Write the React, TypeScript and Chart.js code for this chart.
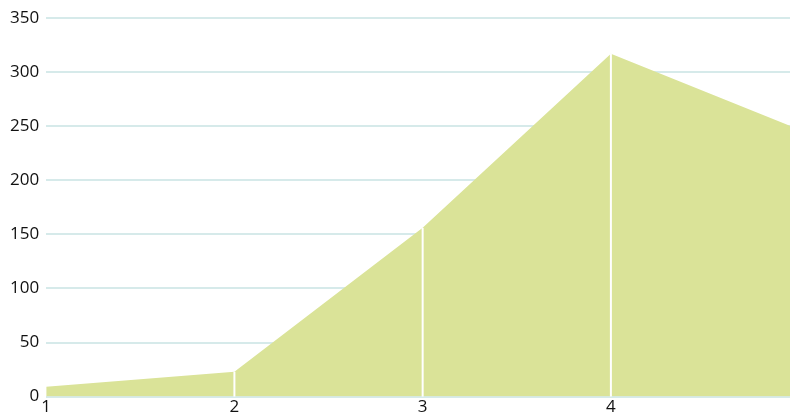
import React, { useEffect, useRef } from "react";
import { Chart, registerables } from "chart.js";

Chart.register(...registerables);

const categories = ["1", "2", "3", "4", "5"];
const values = [9, 23, 156, 317, 247];
const yMin = 0;
const yMax = 350;
const yStep = 50;

const fillColor = "rgb(218, 227, 152)";
const gridColor = "#d6eaea";

const segmentLines = {
  id: "segmentLines",
  afterDatasetsDraw(chart: any) {
    const meta = chart.getDatasetMeta(0);
    const yScale = chart.scales.y;
    const ctx = chart.ctx;
    const base = yScale.getPixelForValue(0);
    ctx.save();
    ctx.strokeStyle = "#ffffff";
    ctx.lineWidth = 2;
    meta.data.forEach((pt: any, i: number) => {
      if (i === 0 || i === meta.data.length - 1) return;
      ctx.beginPath();
      ctx.moveTo(pt.x, pt.y);
      ctx.lineTo(pt.x, base);
      ctx.stroke();
    });
    ctx.restore();
  },
};

export default function App() {
  const ref = useRef<HTMLCanvasElement | null>(null);
  useEffect(() => {
    if (!ref.current) return;
    const chart = new Chart(ref.current, {
      type: "line",
      data: {
        labels: categories,
        datasets: [
          {
            data: values,
            fill: "origin",
            backgroundColor: fillColor,
            borderWidth: 0,
            borderColor: fillColor,
            pointRadius: 0,
            tension: 0,
          },
        ],
      },
      options: {
        animation: false,
        responsive: false,
        maintainAspectRatio: false,
        layout: { padding: { left: 3, top: 18, right: 0, bottom: 0 } },
        plugins: { legend: { display: false }, tooltip: { enabled: false } },
        scales: {
          x: {
            grid: { display: false, drawTicks: false },
            border: { display: false },
            ticks: {
              color: "#111",
              padding: 0,
              maxRotation: 0,
              autoSkip: false,
              font: { family: "'Open Sans', sans-serif", size: 17 },
            },
          },
          y: {
            min: yMin,
            max: yMax,
            grid: { color: gridColor, lineWidth: 2, drawTicks: false },
            border: { display: false },
            ticks: {
              stepSize: yStep,
              color: "#111",
              padding: 7,
              font: { family: "'Open Sans', sans-serif", size: 17 },
            },
          },
        },
      },
      plugins: [segmentLines],
    });
    return () => chart.destroy();
  }, []);
  return (
    <div style={{ position: "fixed", left: 0, top: 0, width: 790, height: 417, overflow: "hidden" }}>
      <canvas ref={ref} width={804} height={417} style={{ display: "block" }} />
    </div>
  );
}
